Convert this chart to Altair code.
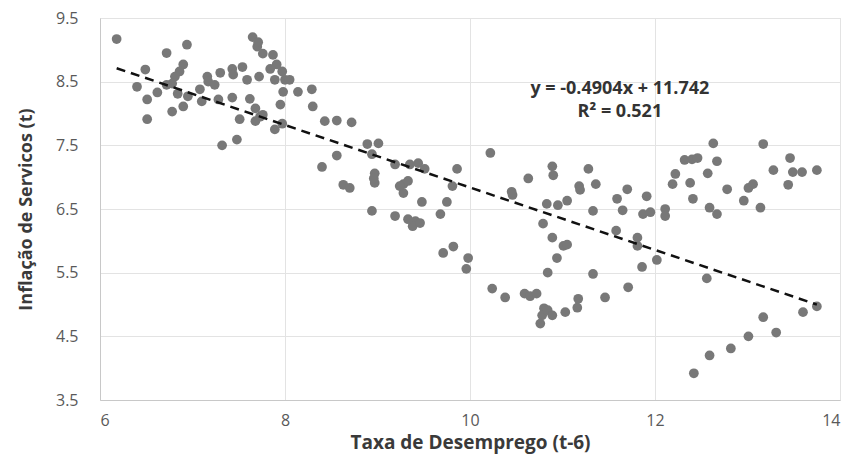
import altair as alt
import pandas as pd

# Taxa de Desemprego (t-6)
desemprego = [
    6.18, 6.49, 6.40, 6.51, 6.51, 6.62, 6.72, 6.94, 6.78, 6.90,
    6.90, 6.86, 6.81, 6.78, 6.72, 6.84, 6.95, 7.08, 7.16, 7.17,
    7.24, 7.10, 7.30, 7.28, 7.43, 7.44, 7.54, 7.43, 7.59, 7.72,
    7.62, 7.68, 7.51, 7.48, 7.32, 7.65, 7.70, 7.76, 7.71, 7.87,
    7.91, 7.84, 7.97, 7.89, 8.00, 7.98, 7.95, 7.73, 7.76, 7.68,
    7.89, 7.97, 8.05, 8.14, 8.29, 8.30, 8.43, 8.56, 8.72, 8.89,
    9.01, 8.56, 8.40, 8.94, 9.19, 9.35, 9.44, 9.51, 9.86, 8.97,
    8.97, 8.96, 8.63, 8.70, 9.28, 9.33, 9.28, 9.24, 9.81, 9.48,
    9.75, 8.94, 9.19, 9.41, 9.38, 9.46, 9.33, 9.68, 9.71, 9.82,
    9.98, 9.96, 10.22, 10.63, 10.45, 10.46, 10.89, 10.90, 10.83, 10.95,
    11.05, 10.79, 10.89, 11.28, 11.36, 11.18, 11.19, 11.33, 11.59, 11.70,
    11.65, 11.87, 11.95, 11.91, 11.58, 11.81, 11.81, 12.11, 12.11, 12.22,
    12.19, 12.32, 12.40, 12.46, 12.38, 12.41, 12.63, 12.67, 12.57, 12.59,
    12.67, 12.78, 12.96, 13.01, 13.06, 13.14, 13.17, 13.28, 13.46, 13.44,
    13.49, 13.59, 13.75, 10.24, 10.38, 10.59, 10.65, 10.72, 10.80, 10.78,
    10.76, 10.84, 10.89, 11.03, 11.16, 11.17, 11.46, 11.71, 11.33, 10.84,
    10.94, 11.01, 11.05, 11.86, 12.02, 12.56, 12.42, 12.59, 12.82, 13.01,
    13.17, 13.31, 13.60, 13.75,
]

# Inflação de Serviços (t)
inflacao = [
    9.17, 8.69, 8.42, 8.22, 7.91, 8.33, 8.95, 9.08, 8.03, 8.11,
    8.77, 8.66, 8.58, 8.47, 8.45, 8.31, 8.27, 8.38, 8.58, 8.50,
    8.45, 8.19, 8.64, 8.22, 8.70, 8.61, 8.73, 8.25, 8.53, 8.58,
    8.23, 8.08, 7.91, 7.59, 7.50, 9.20, 9.05, 8.94, 9.12, 8.92,
    8.77, 8.70, 8.66, 8.53, 8.53, 8.34, 8.14, 7.95, 7.98, 7.88,
    7.75, 7.84, 8.53, 8.34, 8.38, 8.11, 7.88, 7.89, 7.86, 7.52,
    7.53, 7.34, 7.16, 7.36, 7.20, 7.20, 7.22, 7.13, 7.13, 7.06,
    6.91, 6.98, 6.88, 6.83, 6.89, 6.94, 6.75, 6.86, 6.86, 6.61,
    6.61, 6.47, 6.39, 6.31, 6.23, 6.28, 6.34, 6.42, 5.81, 5.91,
    5.73, 5.56, 7.38, 6.98, 6.77, 6.72, 7.17, 7.03, 6.58, 6.56,
    6.63, 6.27, 6.05, 7.13, 6.89, 6.86, 6.80, 6.47, 6.66, 6.81,
    6.48, 6.42, 6.45, 6.70, 6.16, 6.05, 5.92, 6.50, 6.39, 7.05,
    6.89, 7.27, 7.28, 7.30, 6.91, 6.66, 7.53, 7.25, 7.06, 6.52,
    6.42, 6.81, 6.63, 6.83, 6.89, 6.52, 7.52, 7.11, 7.30, 6.88,
    7.08, 7.08, 7.11, 5.25, 5.11, 5.17, 5.13, 5.17, 4.94, 4.83,
    4.70, 4.91, 4.83, 4.88, 4.95, 5.09, 5.11, 5.27, 5.48, 5.50,
    5.73, 5.92, 5.94, 5.59, 5.70, 5.41, 3.92, 4.20, 4.31, 4.50,
    4.80, 4.56, 4.88, 4.97,
]

x_ticks = [6, 8, 10, 12, 14]
y_ticks = [3.5, 4.5, 5.5, 6.5, 7.5, 8.5, 9.5]

slope = -0.4904
intercept = 11.742
eq_lines = ["y = -0.4904x + 11.742", "R² = 0.521"]

n = min(len(desemprego), len(inflacao))
df = pd.DataFrame({"x": desemprego[:n], "y": inflacao[:n]})

x0, x1 = min(desemprego), max(desemprego)
trend = pd.DataFrame({"x": [x0, x1], "y": [slope * x0 + intercept, slope * x1 + intercept]})

ann = pd.DataFrame({"x": [11.62, 11.62], "y": [8.39, 8.02], "t": eq_lines})

FONT = "Open Sans"

xs = alt.Scale(domain=[6, 14], nice=False, zero=False)
ys = alt.Scale(domain=[3.5, 9.5], nice=False, zero=False)

x_axis = alt.Axis(
    values=x_ticks, title="Taxa de Desemprego (t-6)", format="d",
    grid=True, gridColor="#e3e3e3", ticks=False, labelPadding=12,
    labelFontSize=16, labelColor="#595959", labelFont=FONT,
    titleFont=FONT, titleFontSize=19, titleFontWeight="bold",
    titleColor="#3a3a3a", titlePadding=5,
    domainColor="#c8c8c8",
)
y_axis = alt.Axis(
    values=y_ticks, title="Inflação de Servicos (t)", format=".1f",
    grid=True, gridColor="#e3e3e3", ticks=False, labelPadding=22,
    labelFontSize=16, labelColor="#595959", labelFont=FONT,
    titleFont=FONT, titleFontSize=18, titleFontWeight="bold",
    titleColor="#3a3a3a", titlePadding=20,
    domainColor="#c8c8c8",
)

points = alt.Chart(df).mark_circle(size=95, color="#787878", opacity=1).encode(
    x=alt.X("x:Q", scale=xs, axis=x_axis),
    y=alt.Y("y:Q", scale=ys, axis=y_axis),
)

line = alt.Chart(trend).mark_line(
    color="#111111", strokeDash=[9, 6], strokeWidth=2.5
).encode(x=alt.X("x:Q", scale=xs), y=alt.Y("y:Q", scale=ys))

text = alt.Chart(ann).mark_text(
    font=FONT, fontSize=18, fontWeight="bold", color="#333333", align="center", baseline="middle"
).encode(x=alt.X("x:Q", scale=xs), y=alt.Y("y:Q", scale=ys), text="t:N")

chart = (
    alt.layer(points, line, text)
    .properties(
        width=740, height=382,
        autosize=alt.AutoSizeParams(type="none"),
        padding={"left": 92, "top": 10, "right": 5, "bottom": 57},
    )
    .configure_view(stroke="#a9a9a9", strokeWidth=1.5)
    .configure(background="white")
)

chart.save("out.html", embed_options={"renderer": "svg", "actions": False})
